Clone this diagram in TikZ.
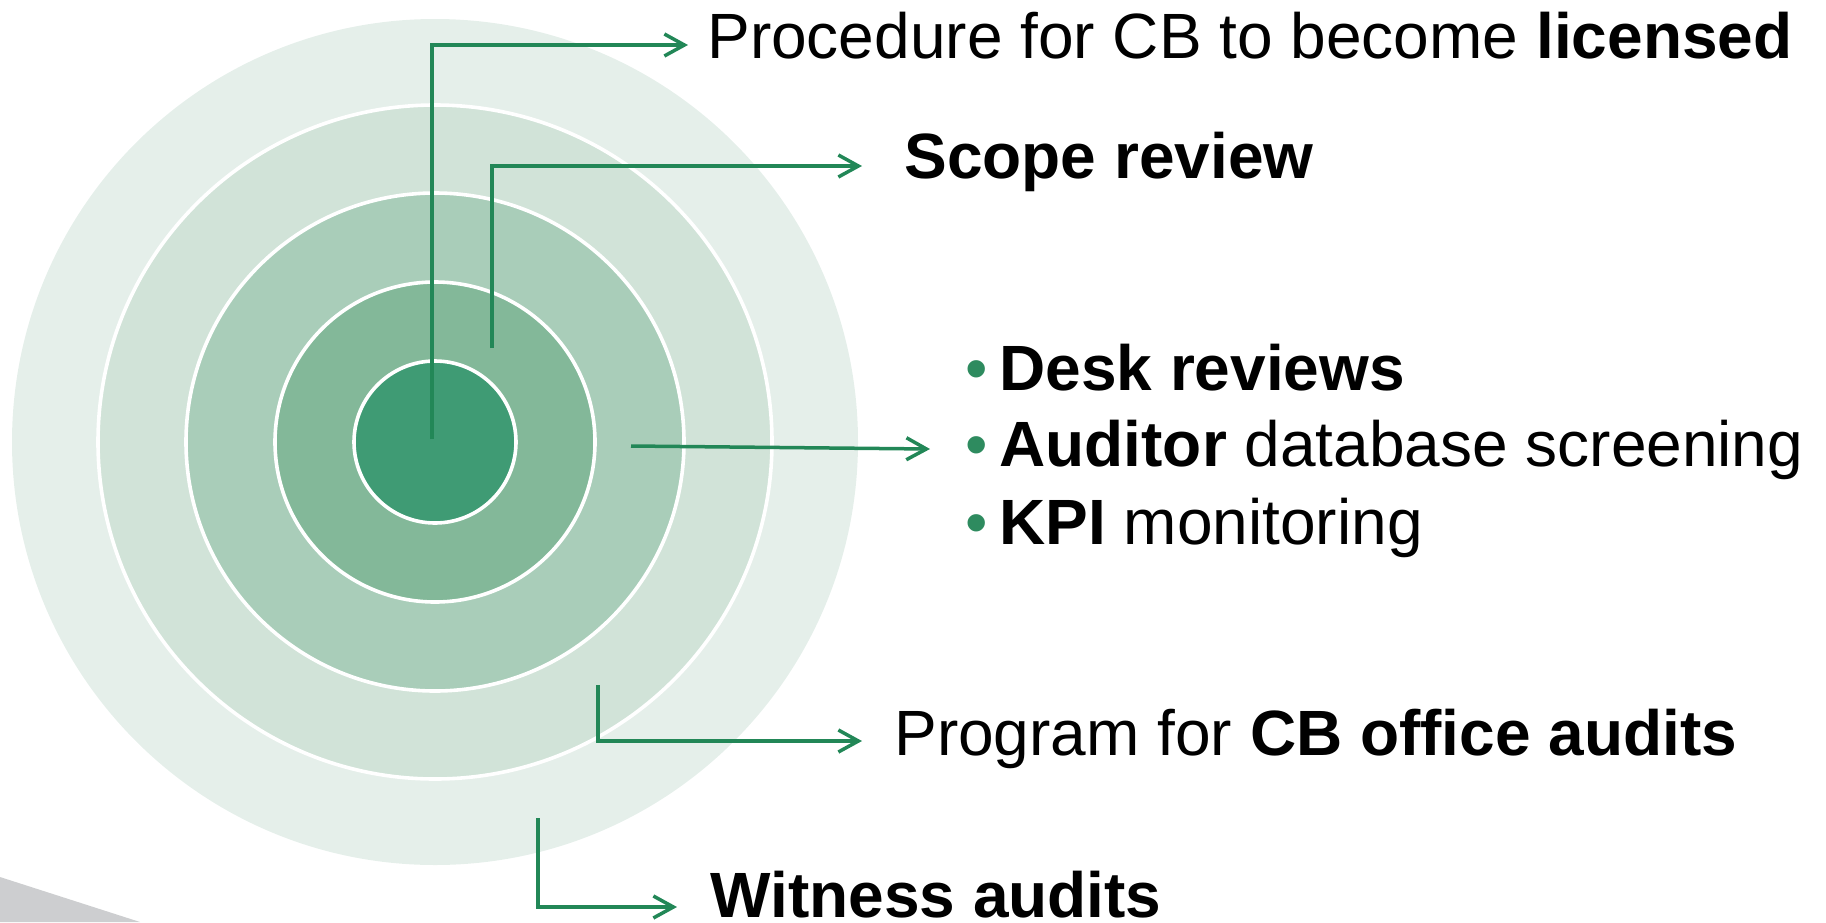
\documentclass[tikz,border=0pt]{standalone}
\usepackage{fontspec}
\setmainfont{Liberation Sans}
\usetikzlibrary{arrows.meta}
\definecolor{ringa}{HTML}{E5EFEA}
\definecolor{ringb}{HTML}{D1E3D8}
\definecolor{ringc}{HTML}{A9CDB9}
\definecolor{ringd}{HTML}{83B899}
\definecolor{ringe}{HTML}{3F9B74}
\definecolor{linkgreen}{HTML}{228757}
\definecolor{dotgreen}{HTML}{2E8B5F}
\definecolor{shadegray}{HTML}{CDCED0}
\newcommand{\bulletmark}{\llap{\textcolor{dotgreen}{\textbullet}\hspace{6pt}}}
\begin{document}
\begin{tikzpicture}[x=0.5pt, y=-0.5pt, ring/.style={circle,draw=white,line width=1.8pt,inner sep=0pt}, main text/.style={anchor=base west,inner sep=0pt,font=\fontsize{32}{38}\selectfont}, link/.style={draw=linkgreen,line width=1.75pt,-{Straight Barb[length=10pt,width=11pt]}}]

            \useasboundingbox (0,0) rectangle (1826,922);
            \fill[shadegray] (0,877) -- (140,922) -- (0,922) -- cycle;

            \node[ring, draw=none, fill=ringa, minimum size=423pt] at (435,442) (r1) {};
            \node[ring, fill=ringb, minimum size=337pt] at (435,442) (r2) {};
            \node[ring, fill=ringc, minimum size=249pt] at (435,442) (r3) {};
            \node[ring, fill=ringd, minimum size=160pt] at (435,442) (r4) {};
            \node[ring, fill=ringe, minimum size=81pt] at (435,442) (r5) {};

            \node[main text] at (707,58) (procedure) {Procedure for CB to become \textbf{licensed}};
            \node[main text] at (904,178) (scope) {\textbf{Scope review}};
            \node[main text] at (999,390) (desk) {\bulletmark\textbf{Desk reviews}};
            \node[main text] at (999,466) (auditor) {\bulletmark\textbf{Auditor} database screening};
            \node[main text] at (999,544) (kpi) {\bulletmark\textbf{KPI} monitoring};
            \node[main text] at (894,755) (office) {Program for \textbf{CB office audits}};
            \node[main text] at (710,917) (witness) {\textbf{Witness audits}};

            \coordinate (s1) at (432,439);
            \coordinate (t1) at (688,45);
            \coordinate (s2) at (492,348);
            \coordinate (t2) at (862,166);
            \coordinate (s3) at (631,446);
            \coordinate (t3) at (930,449);
            \coordinate (s4) at (598,685);
            \coordinate (t4) at (862,741);
            \coordinate (s5) at (538,818);
            \coordinate (t5) at (677,907);

            \draw[link] (s1) |- (t1);
            \draw[link] (s2) |- (t2);
            \draw[link] (s3) -- (t3);
            \draw[link] (s4) |- (t4);
            \draw[link] (s5) |- (t5);
        \end{tikzpicture}
\end{document}
